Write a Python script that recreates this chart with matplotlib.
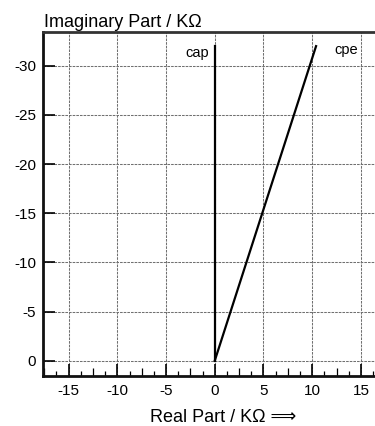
import matplotlib
matplotlib.use("Agg")
import matplotlib.pyplot as plt
import numpy as np

plt.rcParams['font.family'] = ['Liberation Sans', 'DejaVu Sans']

# Data
cap_re = [0, 0]
cap_im = [0, -32]
cpe_re = [0, 10.4]
cpe_im = [0, -32]
xticks = [-15, -10, -5, 0, 5, 10, 15]
yticks = [0, -5, -10, -15, -20, -25, -30]

fig = plt.figure(figsize=(3.75, 4.26), dpi=100)
ax = fig.add_axes([0.1155, 0.118, 0.8845, 0.806])

ax.plot(cap_re, cap_im, color='black', lw=1.6, zorder=3)
ax.plot(cpe_re, cpe_im, color='black', lw=1.6, zorder=3)

ax.set_xlim(-17.6, 16.45)
ax.set_ylim(1.53, -33.4)

ax.set_xticks(xticks)
ax.set_xticklabels([str(v) for v in xticks])
ax.set_yticks(yticks)
ax.set_yticklabels([str(v) for v in yticks])
ax.set_xticks(np.arange(-17.5, 16.5, 2.5), minor=True)

ax.grid(True, which='major', color='#707070', linestyle=(0, (2.5, 1)), lw=0.75)
ax.tick_params(axis='both', which='major', direction='in', length=8.5, width=1.2, labelsize=11, color='black')
ax.tick_params(axis='x', which='major', pad=6)
ax.tick_params(axis='y', which='major', pad=5)
ax.tick_params(axis='x', which='minor', direction='in', length=5.8, width=0.9)
ax.tick_params(axis='y', which='minor', left=False)

sec = ax.secondary_xaxis('bottom')
sec.set_xticks(np.arange(-16.25, 16.5, 2.5))
sec.set_xticklabels([])
sec.tick_params(direction='in', length=3.6, width=0.9)
sec.spines['bottom'].set_visible(False)

for s in ['left', 'bottom']:
    ax.spines[s].set_linewidth(2.0)
    ax.spines[s].set_color('#111111')
ax.spines['top'].set_linewidth(2.0)
ax.spines['top'].set_color('#333333')
ax.spines['right'].set_visible(False)

ax.text(-0.6, -31.3, 'cap', ha='right', va='center', fontsize=10.5)
ax.text(14.7, -31.6, 'cpe', ha='right', va='center', fontsize=10.5)

fig.text(0.117, 0.937, 'Imaginary Part / K\u03a9', ha='left', va='baseline', fontsize=13)
fig.text(0.40, 0.010, 'Real Part / K\u03a9 \u27f9', ha='left', va='baseline', fontsize=13)

fig.savefig('out.png', dpi=100)
